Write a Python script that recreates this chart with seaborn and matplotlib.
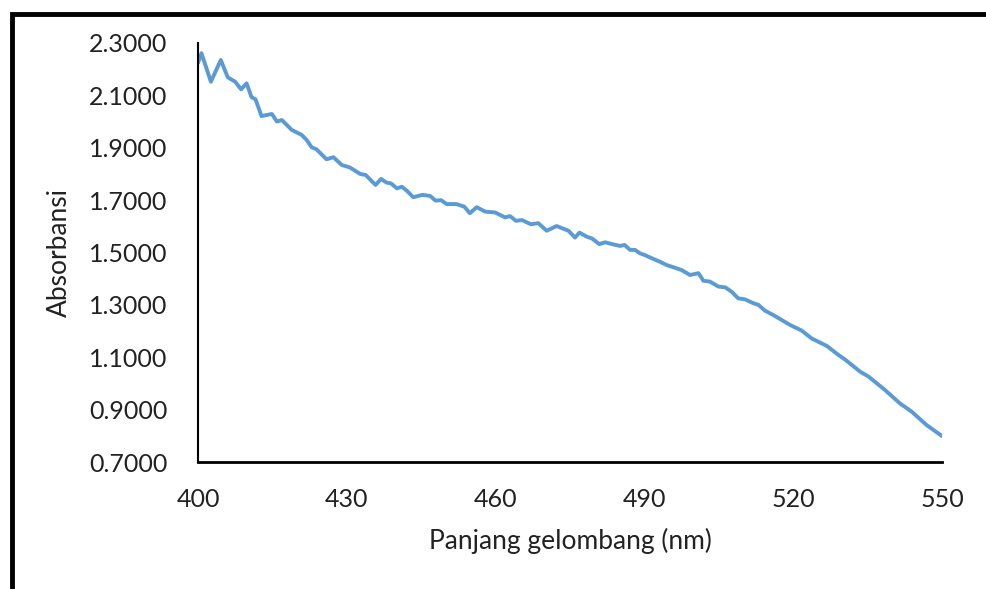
import matplotlib
matplotlib.use("Agg")
import matplotlib.pyplot as plt
import seaborn as sns
import pandas as pd
from matplotlib.patches import Rectangle

# wavelength (nm) and absorbance
wavelength = [400.0, 400.7, 402.6, 404.6, 406.0, 407.5, 408.7, 409.8, 410.8, 411.6,
              412.8, 414.9, 415.9, 416.9, 418.9, 420.9, 421.9, 422.9, 423.9, 425.9,
              427.3, 429.0, 430.6, 432.7, 433.8, 435.8, 436.9, 438.0, 438.9, 440.1,
              441.1, 442.1, 443.4, 445.2, 446.8, 447.9, 449.0, 450.1, 452.1, 453.7,
              454.8, 456.2, 457.9, 459.9, 461.9, 462.9, 464.1, 465.3, 467.1, 468.6,
              470.3, 472.3, 474.7, 476.0, 476.9, 478.4, 479.4, 480.9, 482.1, 483.7,
              485.1, 486.0, 487.1, 488.1, 489.1, 490.1, 491.5, 493.1, 494.5, 495.8,
              497.5, 499.2, 500.9, 501.9, 503.2, 504.9, 506.3, 507.6, 508.9, 510.3,
              512.0, 513.0, 514.3, 516.0, 517.7, 519.4, 521.7, 523.7, 526.8, 529.1,
              530.4, 533.5, 535.2, 538.5, 541.5, 543.9, 546.9, 550.0]
absorbansi = [2.224, 2.261, 2.152, 2.235, 2.169, 2.152, 2.123, 2.146, 2.093, 2.085,
              2.021, 2.029, 2.000, 2.006, 1.968, 1.949, 1.930, 1.902, 1.894, 1.856,
              1.864, 1.834, 1.825, 1.800, 1.796, 1.758, 1.781, 1.767, 1.764, 1.745,
              1.751, 1.736, 1.711, 1.720, 1.716, 1.698, 1.700, 1.685, 1.685, 1.675,
              1.650, 1.673, 1.656, 1.653, 1.634, 1.639, 1.621, 1.624, 1.608, 1.612,
              1.583, 1.601, 1.583, 1.557, 1.576, 1.560, 1.554, 1.532, 1.539, 1.531,
              1.525, 1.529, 1.510, 1.510, 1.497, 1.490, 1.478, 1.465, 1.452, 1.444,
              1.433, 1.414, 1.421, 1.392, 1.389, 1.370, 1.367, 1.350, 1.325, 1.321,
              1.306, 1.300, 1.278, 1.261, 1.242, 1.223, 1.202, 1.172, 1.143, 1.109,
              1.092, 1.045, 1.026, 0.975, 0.924, 0.892, 0.841, 0.799]

x_ticks = [400, 430, 460, 490, 520, 550]
y_ticks = [0.7, 0.9, 1.1, 1.3, 1.5, 1.7, 1.9, 2.1, 2.3]

df = pd.DataFrame({"wl": wavelength, "abs": absorbansi})

sns.set_style("white")
plt.rcParams["font.family"] = ["Lato", "DejaVu Sans"]

fig = plt.figure(figsize=(9.86, 5.89), dpi=100)
ax = fig.add_axes([0.2008, 0.2156, 0.7546, 0.7114])

sns.lineplot(data=df, x="wl", y="abs", sort=False, estimator=None,
             color="#5B9BD5", linewidth=2.8, ax=ax,
             solid_joinstyle="round", solid_capstyle="round")

ax.set_xlim(400, 550)
ax.set_ylim(0.7, 2.3)
ax.set_xticks(x_ticks)
ax.set_yticks(y_ticks)
ax.set_yticklabels([f"{v:.4f}" for v in y_ticks])
ax.tick_params(axis="both", length=0, labelsize=18, colors="#222222")
ax.tick_params(axis="y", pad=22)
ax.tick_params(axis="x", pad=19)

for s in ["top", "right"]:
    ax.spines[s].set_visible(False)
ax.spines["left"].set_linewidth(1.5)
ax.spines["bottom"].set_linewidth(2.0)
ax.spines["left"].set_color("black")
ax.spines["bottom"].set_color("black")

ax.set_xlabel("Panjang gelombang (nm)", fontsize=19, labelpad=12, color="#222222")
ax.set_ylabel("Absorbansi", fontsize=19, labelpad=12, color="#222222")

# outer frame (cropped at right and bottom in the original)
fig.patches.append(Rectangle((11.5 / 986, -0.1), 1.2, 1.1 - 14.5 / 589,
                             transform=fig.transFigure, fill=False,
                             edgecolor="black", linewidth=3.5))

fig.savefig("out.png", dpi=100)
